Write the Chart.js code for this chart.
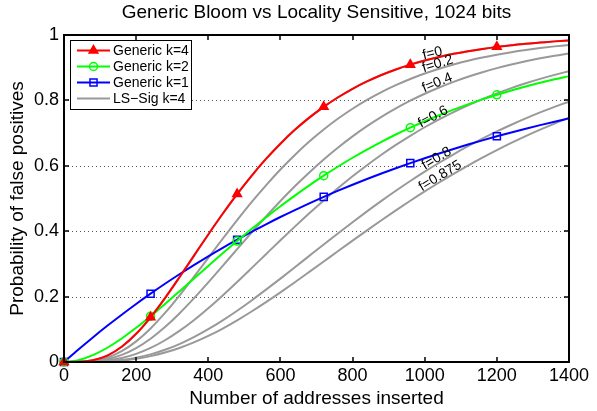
<!DOCTYPE html>
<html><head><meta charset="utf-8">
<script src="https://cdn.jsdelivr.net/npm/chart.js@4.4.0/dist/chart.umd.min.js"></script>
<style>html,body{margin:0;padding:0;background:#fff;}#c{display:block;}</style>
</head><body>
<canvas id="c" width="597" height="411"></canvas>
<script>
// ---- data ----
const addresses = [0,40,80,120,160,200,240,280,320,360,400,440,480,520,560,600,640,680,720,760,800,840,880,920,960,1000,1040,1080,1120,1160,1200,1240,1280,1320,1360,1400];
const genericK4 = [0,.0004,.0052,.0196,.0466,.0863,.1368,.1954,.2590,.3246,.3901,.4534,.5135,.5695,.6210,.6676,.7099,.7474,.7804,.8097,.8356,.8579,.8777,.8945,.9093,.9220,.9330,.9425,.9505,.9575,.9637,.9688,.9735,.9770,.9805,.9833];
const genericK2 = [0,.0056,.0209,.0436,.0720,.1045,.1400,.1774,.2159,.2549,.2938,.3324,.3699,.4067,.4421,.4762,.5089,.5401,.5697,.5978,.6246,.6496,.6734,.6957,.7166,.7363,.7546,.7719,.7880,.8032,.8170,.8303,.8425,.8538,.8645,.8742];
const genericK1 = [0,.0383,.0752,.1106,.1446,.1774,.2089,.2392,.2683,.2963,.3233,.3492,.3741,.3981,.4212,.4434,.4646,.4851,.5049,.5239,.5420,.5595,.5765,.5927,.6082,.6232,.6377,.6516,.6649,.6777,.6901,.7020,.7134,.7244,.7349,.7451];
const lsF0    = [0,.0004,.0052,.0196,.0466,.0863,.1368,.1954,.2590,.3246,.3901,.4534,.5135,.5695,.6210,.6676,.7099,.7474,.7804,.8097,.8356,.8579,.8777,.8945,.9093,.9220,.9330,.9425,.9505,.9575,.9637,.9688,.9735,.9770,.9805,.9833];
const lsF02   = [0,.0003,.0035,.0136,.0332,.0631,.1026,.1500,.2032,.2600,.3185,.3769,.4340,.4887,.5404,.5887,.6332,.6740,.7110,.7445,.7745,.8014,.8254,.8466,.8655,.8821,.8968,.9097,.9211,.9311,.9398,.9475,.9542,.9601,.9652,.9696];
const lsF04   = [0,.0002,.0021,.0086,.0218,.0427,.0713,.1070,.1485,.1945,.2435,.2941,.3452,.3957,.4450,.4924,.5374,.5798,.6195,.6562,.6901,.7213,.7497,.7756,.7991,.8203,.8395,.8568,.8723,.8862,.8987,.9099,.9198,.9287,.9367,.9437];
const lsF06   = [0,.0001,.0011,.0047,.0123,.0249,.0430,.0665,.0950,.1279,.1644,.2036,.2447,.2870,.3297,.3722,.4140,.4548,.4942,.5319,.5678,.6018,.6338,.6638,.6918,.7179,.7421,.7644,.7851,.8041,.8216,.8377,.8524,.8658,.8781,.8894];
const lsF08   = [0,0,.0005,.0023,.0063,.0131,.0234,.0373,.0548,.0759,.1002,.1273,.1568,.1882,.2212,.2551,.2897,.3246,.3594,.3938,.4276,.4607,.4928,.5237,.5535,.5821,.6093,.6352,.6598,.6830,.7050,.7256,.7450,.7633,.7803,.7963];
const lsF0875 = [0,0,.0004,.0017,.0047,.0099,.0179,.0288,.0428,.0599,.0798,.1024,.1274,.1544,.1831,.2130,.2439,.2755,.3074,.3394,.3712,.4026,.4335,.4637,.4930,.5215,.5489,.5753,.6007,.6249,.6479,.6699,.6908,.7105,.7292,.7469];
const xTicks = [0,200,400,600,800,1000,1200,1400];
const yTicks = [0,0.2,0.4,0.6,0.8,1];
const seriesNames = ['Generic k=4','Generic k=2','Generic k=1'];
const lsName = 'LS\u2212Sig k=4';
const curveLabels = ['f=0','f=0.2','f=0.4','f=0.6','f=0.8','f=0.875'];
const titleText = 'Generic Bloom vs Locality Sensitive, 1024 bits';
const xTitle = 'Number of addresses inserted';
const yTitle = 'Probability of false positives';

// ---- styling ----
const FONT = "'Liberation Sans', Arial, Helvetica, sans-serif";
const markerEvery = 240;
const GRAY = '#999999';
const pts = arr => addresses.map((x, i) => ({x: x, y: arr[i]}));
const markerRadius = r => (ctx => (ctx.raw && ctx.raw.x % markerEvery === 0) ? r : 0);

const coloredStyles = [
  {color:'#ff0000', style:'triangle', fill:'#ff0000', r:5},
  {color:'#00ff00', style:'circle', fill:'rgba(0,0,0,0)', r:4},
  {color:'#0000ff', style:'rect', fill:'rgba(0,0,0,0)', r:5}
];
const coloredData = [genericK4, genericK2, genericK1];
const lsData = [lsF0, lsF02, lsF04, lsF06, lsF08, lsF0875];
const labelAtX = [1025, 1040, 1040, 1030, 1040, 1050];

const datasets = [];
coloredData.forEach((arr, i) => {
  const s = coloredStyles[i];
  datasets.push({
    label: seriesNames[i], data: pts(arr),
    borderColor: s.color, borderWidth: 2, fill: false,
    cubicInterpolationMode: 'monotone',
    pointStyle: s.style, pointRadius: markerRadius(s.r), pointHoverRadius: 0,
    pointBackgroundColor: s.fill, pointBorderColor: s.color, pointBorderWidth: 1.5,
    clip: false
  });
});
lsData.forEach((arr, i) => {
  datasets.push({
    label: curveLabels[i], data: pts(arr),
    borderColor: GRAY, borderWidth: 2, fill: false,
    cubicInterpolationMode: 'monotone', pointRadius: 0, pointHoverRadius: 0
  });
});

function interp(arr, xv) {
  for (let i = 0; i < addresses.length - 1; i++) {
    if (xv >= addresses[i] && xv <= addresses[i+1]) {
      const t = (xv - addresses[i]) / (addresses[i+1] - addresses[i]);
      return arr[i] + t * (arr[i+1] - arr[i]);
    }
  }
  return arr[arr.length-1];
}

const matlabPlugin = {
  id: 'matlabAxes',
  beforeDatasetsDraw(chart) {
    const {ctx, chartArea: a, scales: {y}} = chart;
    ctx.save();
    ctx.strokeStyle = '#555';
    ctx.lineWidth = 1;
    ctx.setLineDash([1, 3]);
    yTicks.forEach(v => {
      if (v === 0 || v === 1) return;
      const py = Math.round(y.getPixelForValue(v)) + 0.5;
      ctx.beginPath(); ctx.moveTo(a.left, py); ctx.lineTo(a.right, py); ctx.stroke();
    });
    ctx.restore();
  },
  afterDatasetsDraw(chart) {
    const {ctx, chartArea: a, scales: {x, y}} = chart;
    ctx.save();
    // curve labels
    ctx.fillStyle = '#000';
    ctx.font = '14px ' + FONT;
    ctx.textAlign = 'center';
    ctx.textBaseline = 'middle';
    lsData.forEach((arr, i) => {
      const xv = labelAtX[i];
      const x1 = x.getPixelForValue(xv - 20), y1 = y.getPixelForValue(interp(arr, xv - 20));
      const x2 = x.getPixelForValue(xv + 20), y2 = y.getPixelForValue(interp(arr, xv + 20));
      const px = x.getPixelForValue(xv), py = y.getPixelForValue(interp(arr, xv));
      const ang = Math.atan2(y2 - y1, x2 - x1);
      ctx.save();
      ctx.translate(px, py); ctx.rotate(ang);
      ctx.fillText(curveLabels[i], 0, -5);
      ctx.restore();
    });
    // axes box
    ctx.strokeStyle = '#000';
    ctx.lineWidth = 2;
    ctx.strokeRect(a.left, a.top, a.right - a.left, a.bottom - a.top);
    // inward ticks on all sides
    ctx.lineWidth = 1.5;
    const tl = 5;
    xTicks.forEach(v => {
      const px = Math.round(x.getPixelForValue(v));
      ctx.beginPath();
      ctx.moveTo(px, a.bottom); ctx.lineTo(px, a.bottom - tl);
      ctx.moveTo(px, a.top); ctx.lineTo(px, a.top + tl);
      ctx.stroke();
    });
    yTicks.forEach(v => {
      const py = Math.round(y.getPixelForValue(v));
      ctx.beginPath();
      ctx.moveTo(a.left, py); ctx.lineTo(a.left + tl, py);
      ctx.moveTo(a.right, py); ctx.lineTo(a.right - tl, py);
      ctx.stroke();
    });
    // legend
    const bx = 70.5, by = 40.5, bw = 121, bh = 69;
    ctx.fillStyle = '#fff';
    ctx.fillRect(bx, by, bw, bh);
    ctx.strokeStyle = '#000';
    ctx.lineWidth = 1;
    ctx.strokeRect(bx, by, bw, bh);
    const rows = [50.5, 66.5, 82.5, 98.5];
    const items = coloredStyles.map((s, i) => ({name: seriesNames[i], s: s})).concat([{name: lsName, s: {color: GRAY}}]);
    ctx.font = '14px ' + FONT;
    ctx.textAlign = 'left';
    ctx.textBaseline = 'middle';
    items.forEach((it, i) => {
      const ry = rows[i];
      ctx.strokeStyle = it.s.color;
      ctx.lineWidth = 2;
      ctx.beginPath(); ctx.moveTo(77, ry); ctx.lineTo(110, ry); ctx.stroke();
      if (it.s.style) {
        ctx.fillStyle = it.s.fill;
        ctx.strokeStyle = it.s.color;
        ctx.lineWidth = 1.5;
        Chart.helpers.drawPoint(ctx, {pointStyle: it.s.style, radius: it.s.r, rotation: 0, borderWidth: 1.5}, 93.5, ry);
      }
      ctx.fillStyle = '#000';
      ctx.fillText(it.name, 113, ry + 1);
    });
    ctx.restore();
  }
};

new Chart(document.getElementById('c'), {
  type: 'line',
  data: {datasets: datasets},
  options: {
    responsive: false, animation: false, devicePixelRatio: 1, events: [],
    layout: {padding: {left: 0, right: 28, top: 0, bottom: 0}},
    plugins: {
      legend: {display: false}, tooltip: {enabled: false},
      title: {display: true, fullSize: false, text: titleText, color: '#000',
        font: {family: FONT, size: 19, weight: 'normal'}, padding: {top: 1, bottom: 11.2}}
    },
    scales: {
      x: {
        type: 'linear', min: 0, max: 1400,
        afterBuildTicks: s => { s.ticks = xTicks.map(v => ({value: v})); },
        afterFit: s => { s.height = 49; },
        grid: {display: false, drawTicks: false}, border: {display: false},
        ticks: {color: '#000', font: {family: FONT, size: 18}, padding: 3, maxRotation: 0, autoSkip: false, callback: v => String(v)},
        title: {display: true, text: xTitle, color: '#000', font: {family: FONT, size: 19}, padding: {top: 0, bottom: 1}}
      },
      y: {
        type: 'linear', min: 0, max: 1,
        afterBuildTicks: s => { s.ticks = yTicks.map(v => ({value: v})); },
        afterFit: s => { s.width = 64; },
        grid: {display: false, drawTicks: false}, border: {display: false},
        ticks: {color: '#000', font: {family: FONT, size: 18}, padding: 5, autoSkip: false, callback: v => String(v)},
        title: {display: true, text: yTitle, color: '#000', font: {family: FONT, size: 19}, padding: {top: 6, bottom: 0}}
      }
    }
  },
  plugins: [matlabPlugin]
});
</script>
</body></html>
